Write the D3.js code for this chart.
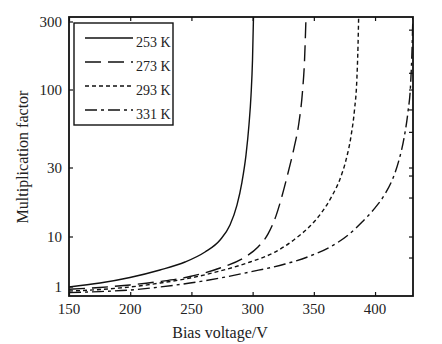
<!DOCTYPE html>
<html><head><meta charset="utf-8">
<script src="https://cdn.jsdelivr.net/npm/d3@7"></script>
<style>body{margin:0;background:#fff}svg{display:block}text{font-family:"Liberation Serif","DejaVu Serif",serif;fill:#222}</style>
</head><body><svg id="c" width="442" height="344"></svg>
<script>
// ---- data ----
const seriesNames = ["253 K", "273 K", "293 K", "331 K"];
const v253 = [150,175.3,199.8,224.3,244.8,261.1,273.4,281.5,287.2,291.3,294.6,297.0,298.7,299.9,300.7];
const m253 = [1.0,1.2,1.55,2.19,3.16,5.01,8.71,12.1,16.6,24.0,36.7,58.2,92.5,162,325];
const v273 = [150,175.3,199.8,224.3,248.8,273.4,293.8,304.4,312.6,319.1,324.0,328.9,333.8,337.9,340.7,342.4,343.6];
const m273 = [0.9,0.98,1.1,1.29,1.62,2.4,3.98,6.31,10.5,14.0,19.2,27.7,40.8,61.0,97.0,162,325];
const v293 = [150,175.3,199.8,224.3,248.8,273.4,297.9,318.3,334.6,346.9,356.7,364.8,371.4,376.3,380.4,383.2,385.1,386.1,386.6];
const m293 = [0.83,0.89,1.0,1.2,1.51,2.09,3.16,5.01,9.12,11.9,14.9,19.2,25.2,34.0,49.2,73.5,117,207,325];
const v331 = [150,175.3,199.8,224.3,248.8,273.4,297.9,326.5,346.9,363.2,377.9,389.4,400.0,408.1,414.7,419.6,423.7,426.9,429.0,430.2,430.9];
const m331 = [0.77,0.81,0.87,1.0,1.2,1.51,2.0,2.88,4.17,6.31,10.3,12.7,15.9,19.8,25.6,34.0,47.7,71.3,108,191,325];
const xTicks = [150,200,250,300,350,400];
const yTicks = [1,10,30,100,300];
const yRightTicks = [3.8,10,18.6,26.4,30,52,73.5,100,131,263];
const xTitle = "Bias voltage/V";
const yTitle = "Multiplication factor";
const dashes = [null, "16,7", "4,3", "12,4,3,4"];

// ---- layout ----
const svg = d3.select("#c");
const L = 69, R = 413, T = 17, B = 296;
const x = d3.scaleLinear().domain([150, 431]).range([L, R]);
const yLog = d3.scaleLinear()
  .domain([0, 1, Math.log10(30), 2, Math.log10(300)])
  .range([287, 237, 168, 90, 22]);
const y = m => yLog(Math.log10(m));

svg.append("defs").append("clipPath").attr("id","clip")
  .append("rect").attr("x",L).attr("y",T).attr("width",R-L).attr("height",B-T);

const series = [[v253,m253],[v273,m273],[v293,m293],[v331,m331]];
const line = d3.line().x(d=>x(d[0])).y(d=>y(d[1])).curve(d3.curveMonotoneX);
const g = svg.append("g").attr("clip-path","url(#clip)");
series.forEach((s,i)=>{
  const pts = s[0].map((v,k)=>[v,s[1][k]]);
  g.append("path").datum(pts).attr("d",line).attr("fill","none")
   .attr("stroke","#111").attr("stroke-width",1.4)
   .attr("stroke-dasharray",dashes[i]);
});

// frame
svg.append("rect").attr("x",L).attr("y",T).attr("width",R-L).attr("height",B-T)
  .attr("fill","none").attr("stroke","#111").attr("stroke-width",1.8);

// axes (ticks inward)
const ax = svg.append("g").attr("transform",`translate(0,${B})`)
  .call(d3.axisTop(x).tickValues(xTicks).tickSize(4).tickFormat(""));
const axTop = svg.append("g").attr("transform",`translate(0,${T})`)
  .call(d3.axisBottom(x).tickValues(xTicks).tickSize(4).tickFormat(""));
[ax, axTop].forEach(a=>{a.select(".domain").remove(); a.selectAll("line").attr("stroke","#111").attr("stroke-width",1.2);});
const yL = svg.append("g").attr("transform",`translate(${L},0)`);
yTicks.forEach(t=>{
  yL.append("line").attr("x1",0).attr("x2",4).attr("y1",y(t)).attr("y2",y(t)).attr("stroke","#111").attr("stroke-width",1.2);
  yL.append("text").attr("x",-7).attr("y",y(t)).attr("dy","0.35em").attr("text-anchor","end")
    .attr("font-size",15).text(String(t));
});
const yR = svg.append("g").attr("transform",`translate(${R},0)`);
yRightTicks.forEach(t=>{
  yR.append("line").attr("x1",0).attr("x2",-4).attr("y1",y(t)).attr("y2",y(t)).attr("stroke","#111").attr("stroke-width",1.2);
});
xTicks.forEach(t=>{
  svg.append("text").attr("x",x(t)).attr("y",B+13).attr("dy","0.35em").attr("text-anchor","middle")
    .attr("font-size",15).text(String(t));
});

// titles
svg.append("text").attr("x",(L+R)/2-21).attr("y",332).attr("dy","0.35em").attr("text-anchor","middle")
  .attr("font-size",16).text(xTitle);
svg.append("text").attr("transform",`translate(22,157) rotate(-90)`).attr("dy","0.35em").attr("text-anchor","middle")
  .attr("font-size",16).text(yTitle);

// legend
const lg = svg.append("g");
lg.append("rect").attr("x",74).attr("y",23).attr("width",99).attr("height",102)
  .attr("fill","#fff").attr("stroke","#111").attr("stroke-width",1.4);
const rowsY = [38,62,86,110];
seriesNames.forEach((n,i)=>{
  lg.append("line").attr("x1",85).attr("x2",133).attr("y1",rowsY[i]).attr("y2",rowsY[i])
    .attr("stroke","#111").attr("stroke-width",1.4).attr("stroke-dasharray",dashes[i]);
  lg.append("text").attr("x",136).attr("y",rowsY[i]+4).attr("dy","0.35em").attr("font-size",14).text(n);
});
</script></body></html>
